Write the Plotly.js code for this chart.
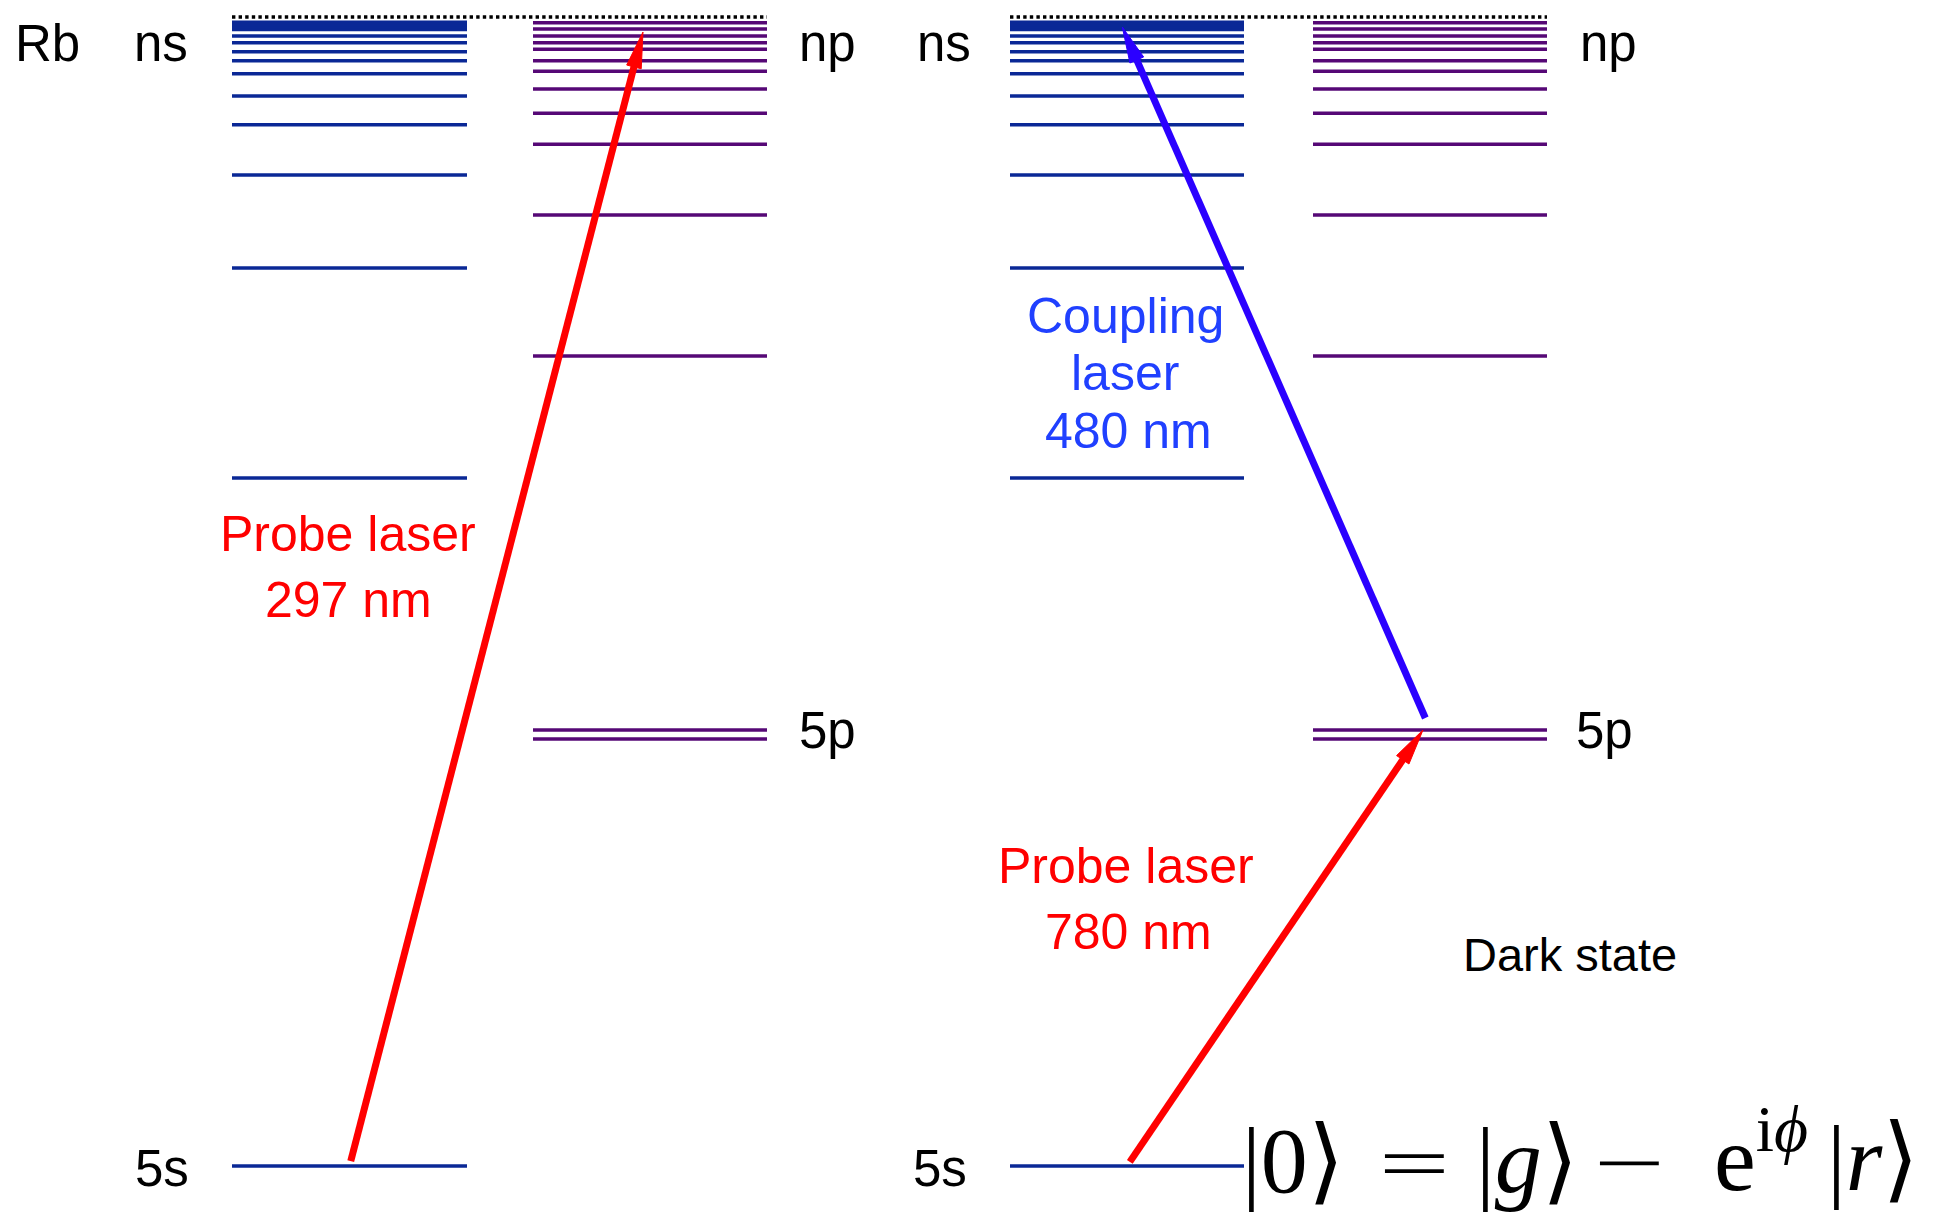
<!DOCTYPE html>
<html>
<head>
<meta charset="utf-8">
<script src="https://cdn.plot.ly/plotly-3.0.1.min.js"></script>
<style>
  html, body { margin: 0; padding: 0; background: #ffffff; overflow: hidden; }
  #chart { width: 1935px; height: 1218px; }
</style>
</head>
<body>
<div id="chart"></div>
<script>
// Rubidium term energies, cm^-1 above the 5s ground state
const ionizationLimit = 33690;
const nsLevels = [0, 20174, 26331, 29058, 30533, 31375, 32029, 32410, 32674,
                  32938, 33134, 33325, 33398, 33472, 33539];
const npLevels = [12520, 12784, 23751, 27885, 29959, 30868, 31580, 32099,
                  32410, 32744, 32938, 33134, 33340, 33524];
const groundLevel = 0;                 // 5s
const firstExcited = [12520, 12784];   // 5p1/2, 5p3/2

// Laser transitions (cm^-1): start and end energies
const probeUV  = { from: 0,     to: 33250, text: ['Probe laser', '297 nm'] };
const probeIR  = { from: 0,     to: 12784, text: ['Probe laser', '780 nm'] };
const coupling = { from: 13136, to: 33398, text: ['Coupling', 'laser', '480 nm'] };

const seriesNames = ['ns', 'np'];
const stateNames = ['5s', '5p'];
const darkStateText = 'Dark state';

// |0> = |g> - e^{i phi} |r>, set piece by piece
const formulaParts = [
  { text: '|0\u27E9', op: false },
  { text: '=', op: true },
  { text: '|<i>g</i>\u27E9', op: false },
  { text: '\u2212', op: true },
  { text: 'e<sup>i<i>\u03D5</i></sup>\u2009|<i>r</i>\u27E9', op: false }
];

// ---- layout geometry (pixels) ----
const W = 1935, H = 1218;
const Y_RANGE = [-1525, 34190];
const pxPerE = H / (Y_RANGE[1] - Y_RANGE[0]);
const eToPx = E => (Y_RANGE[1] - E) * pxPerE;
const pxToE = p => Y_RANGE[1] - p / pxPerE;

const panels = [
  { ns: [232, 467], np: [533, 767] },
  { ns: [1010, 1244], np: [1313, 1547] }
];
const colAt = (col, f) => col[0] + (col[1] - col[0]) * f;

const NS_COLOR = '#0a2896';
const NP_COLOR = '#560876';
const RED = '#ff0000';
const BLUE = '#2b00ff';
const TEXT_BLUE = '#2040ff';

const traces = [];

function levelTrace(col, energies, color) {
  const x = [], y = [];
  energies.forEach(E => { x.push(col[0], col[1], null); y.push(E, E, null); });
  return { type: 'scatter', mode: 'lines', x, y, hoverinfo: 'skip',
           line: { color, width: 3.6 } };
}

function arrowTraces(x0, E0, x1, E1, color, o) {
  const p0 = [x0, eToPx(E0)], p1 = [x1, eToPx(E1)];
  const dx = p1[0] - p0[0], dy = p1[1] - p0[1];
  const L = Math.hypot(dx, dy), ux = dx / L, uy = dy / L;
  const nx = -uy, ny = ux;
  const t0 = [p0[0] + ux * o.tailGap, p0[1] + uy * o.tailGap];
  const tip = [p1[0] - ux * o.tipGap, p1[1] - uy * o.tipGap];
  const base = [tip[0] - ux * o.headLen, tip[1] - uy * o.headLen];
  const sEnd = [tip[0] - ux * o.headLen * 0.6, tip[1] - uy * o.headLen * 0.6];
  const hw = o.headWidth / 2;
  const shaft = { type: 'scatter', mode: 'lines', hoverinfo: 'skip',
    x: [t0[0], sEnd[0]], y: [pxToE(t0[1]), pxToE(sEnd[1])],
    line: { color, width: o.width } };
  const hx = [tip[0], base[0] + nx * hw, base[0] - nx * hw, tip[0]];
  const hy = [tip[1], base[1] + ny * hw, base[1] - ny * hw, tip[1]].map(pxToE);
  const head = { type: 'scatter', mode: 'lines', hoverinfo: 'skip',
    x: hx, y: hy, fill: 'toself', fillcolor: color,
    line: { color, width: 1 } };
  return [shaft, head];
}

// energy levels and ionization limit for both panels
panels.forEach(p => {
  traces.push(levelTrace(p.ns, nsLevels, NS_COLOR));
  traces.push(levelTrace(p.np, npLevels, NP_COLOR));
  traces.push({ type: 'scatter', mode: 'lines', hoverinfo: 'skip',
    x: [p.ns[0], p.np[1]], y: [ionizationLimit, ionizationLimit],
    line: { color: '#000000', width: 3.6, dash: '3.4px,3.2px' } });
});

const arrowStyle = { width: 7, headLen: 36, headWidth: 15, tailGap: 5, tipGap: 0 };
traces.push(...arrowTraces(colAt(panels[0].ns, 0.5), probeUV.from,
                           colAt(panels[0].np, 0.47), probeUV.to, RED, arrowStyle));
traces.push(...arrowTraces(colAt(panels[1].ns, 0.5), probeIR.from,
                           colAt(panels[1].np, 0.47), probeIR.to, RED, arrowStyle));
traces.push(...arrowTraces(colAt(panels[1].np, 0.48), coupling.from,
                           colAt(panels[1].ns, 0.48), coupling.to, BLUE,
                           Object.assign({}, arrowStyle, { tailGap: 0 })));

// ---- text ----
const SANS = 'Liberation Sans, Arial, Helvetica, sans-serif';
const SERIF = 'Liberation Serif, DejaVu Serif, serif';
const ann = [];
function label(text, x, ypx, size, color, extra) {
  ann.push(Object.assign({
    text, x: x / W, y: 1 - ypx / H, xref: 'paper', yref: 'paper',
    xanchor: 'center', yanchor: 'middle', showarrow: false,
    font: { family: SANS, size, color }
  }, extra || {}));
}

label('Rb', 47.5, 44, 51, '#000000');
label(seriesNames[0], 161, 44, 51, '#000000');
label(seriesNames[1], 827, 44, 51, '#000000');
label(seriesNames[0], 944, 44, 51, '#000000');
label(seriesNames[1], 1608, 44, 51, '#000000');

const y5p = (eToPx(firstExcited[0]) + eToPx(firstExcited[1])) / 2 - 4.5;
const y5s = eToPx(groundLevel) + 3;
label(stateNames[1], 827, y5p, 51, '#000000');
label(stateNames[1], 1604, y5p, 51, '#000000');
label(stateNames[0], 162, y5s, 51, '#000000');
label(stateNames[0], 940, y5s, 51, '#000000');

label(probeUV.text[0], 348, 534, 50, RED);
label(probeUV.text[1], 348, 600, 50, RED);
label(coupling.text[0], 1125, 316, 50, TEXT_BLUE);
label(coupling.text[1], 1125, 373, 50, TEXT_BLUE);
label(coupling.text[2], 1128, 431, 50, TEXT_BLUE);
label(probeIR.text[0], 1126, 866, 50, RED);
label(probeIR.text[1], 1128, 932, 50, RED);
label(darkStateText, 1570, 954, 47, '#000000');

// formula pieces: horizontal centres, and vertical centres so all share one baseline
const formulaX = [1293, 1414, 1527, 1629, 1816];
const formulaY = [1160, 1160, 1160, 1160, 1151];
formulaParts.forEach((part, i) => {
  const font = part.op
    ? { family: 'DejaVu Sans, sans-serif', size: 94, color: '#000000', weight: 200 }
    : { family: SERIF, size: 94, color: '#000000' };
  label(part.text, formulaX[i], formulaY[i], 94, '#000000', { font });
});

const layout = {
  width: W, height: H,
  margin: { l: 0, r: 0, t: 0, b: 0 },
  paper_bgcolor: '#ffffff', plot_bgcolor: '#ffffff',
  showlegend: false, hovermode: false,
  xaxis: { range: [0, W], visible: false, fixedrange: true },
  yaxis: { range: Y_RANGE, visible: false, fixedrange: true },
  annotations: ann
};

Plotly.newPlot('chart', traces, layout, { staticPlot: true, displayModeBar: false });
</script>
</body>
</html>
